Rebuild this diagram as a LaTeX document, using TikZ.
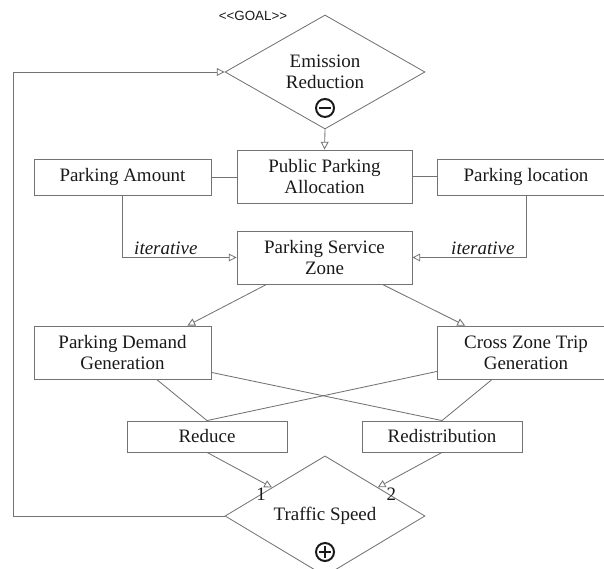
\documentclass[tikz,border=0pt]{standalone}
\usepackage{fontspec}
\setmainfont{Liberation Serif}
\newfontfamily\goalfont{Liberation Sans}
\usepackage{xcolor}
\usetikzlibrary{arrows.meta,shapes.geometric}
\definecolor{textDark}{RGB}{25,25,25}
\definecolor{lineGray}{RGB}{115,115,115}

\tikzset{
  box/.style={draw=lineGray, line width=0.6pt, align=center, inner sep=2pt,
    minimum width=4.425cm, minimum height=1.325cm},
  goalshape/.style={diamond, draw=lineGray, line width=0.6pt, align=center,
    inner sep=0pt, minimum width=5cm, minimum height=2.85cm},
  link/.style={lineGray, line width=0.6pt},
  flow/.style={link, -{Triangle[open, length=5.5pt, width=5.5pt]}},
  signmark/.style={circle, draw=textDark, line width=1.4pt, minimum size=0.45cm, inner sep=0pt}
}

\begin{document}
\begin{tikzpicture}[every node/.style={text=textDark, font=\fontsize{13.5}{15}\selectfont}]
\useasboundingbox (0,0) rectangle (15.1, 14.2);

% Goal
\node[font=\goalfont\fontsize{9.5}{11}\selectfont] (goaltag) at (6.325, 13.8) {<{}<GOAL>{}>};
\node[goalshape] (goal) at (8.125, 12.4) {Emission\\Reduction};
\node[signmark] (minus) at (8.125, 11.5) {};
\draw[textDark, line width=1.4pt] ([xshift=-0.14cm]minus.center) -- ([xshift=0.14cm]minus.center);

% Parking allocation row
\node[box, minimum width=4.375cm] (alloc) at (8.1125, 9.7875) {Public Parking\\Allocation};
\node[box, minimum height=0.9cm] (amount) at (3.0625, 9.775) {Parking Amount};
\node[box, minimum height=0.9cm] (location) at (13.15, 9.775) {Parking location};
\draw[link] (amount.east) -- (amount.east -| alloc.west);
\draw[link] (alloc.east) -- (alloc.east -| location.west);
\draw[flow] (goal.south) -- (alloc.north);

% Service zone
\node[box, minimum width=4.375cm] (zone) at (8.1125, 7.7625) {Parking Service\\Zone};
\draw[flow] (amount.south) |- (zone.west)
    node[pos=0.69, above, inner sep=2pt, font=\fontsize{13.5}{15}\selectfont\itshape] {iterative};
\draw[flow] (location.south) |- (zone.east)
    node[pos=0.69, above, inner sep=2pt, font=\fontsize{13.5}{15}\selectfont\itshape] {iterative};

% Trip generation
\node[box] (demand) at (3.0625, 5.3875) {Parking Demand\\Generation};
\node[box] (cross) at (13.15, 5.3875) {Cross Zone Trip\\Generation};
\draw[flow] ([xshift=0.75cm]zone.south west) -- ([xshift=-0.6cm]demand.north east);
\draw[flow] ([xshift=-0.75cm]zone.south east) -- ([xshift=0.7cm]cross.north west);

% Effects
\node[box, minimum width=4cm, minimum height=0.775cm] (reduce) at (5.175, 3.2875) {Reduce};
\node[box, minimum width=4cm, minimum height=0.775cm] (redist) at (11.05, 3.2875) {Redistribution};
\draw[link] ([xshift=3.075cm]demand.south west) -- (reduce.north);
\draw[link] ([yshift=0.175cm]demand.south east) -- (redist.north);
\draw[link] ([yshift=0.2cm]cross.south west) -- (reduce.north);
\draw[link] ([xshift=1.375cm]cross.south west) -- (redist.north);

% Traffic speed
\node[goalshape] (traffic) at (8.125, 1.3) {Traffic Speed};
\node[signmark] (plus) at (8.125, 0.4) {};
\draw[textDark, line width=1.4pt] ([xshift=-0.14cm]plus.center) -- ([xshift=0.14cm]plus.center);
\draw[textDark, line width=1.4pt] ([yshift=-0.14cm]plus.center) -- ([yshift=0.14cm]plus.center);
\draw[flow] (reduce.south) -- (traffic)
    node[at end, anchor=east, inner sep=0pt, xshift=-4pt, yshift=-5pt] {1};
\draw[flow] (redist.south) -- (traffic)
    node[at end, anchor=west, inner sep=0pt, xshift=6pt, yshift=-5pt] {2};

% Feedback loop
\coordinate (back) at (0.325, 1.3);
\draw[flow] (traffic.west) -- (back) |- (goal.west);

\end{tikzpicture}
\end{document}
